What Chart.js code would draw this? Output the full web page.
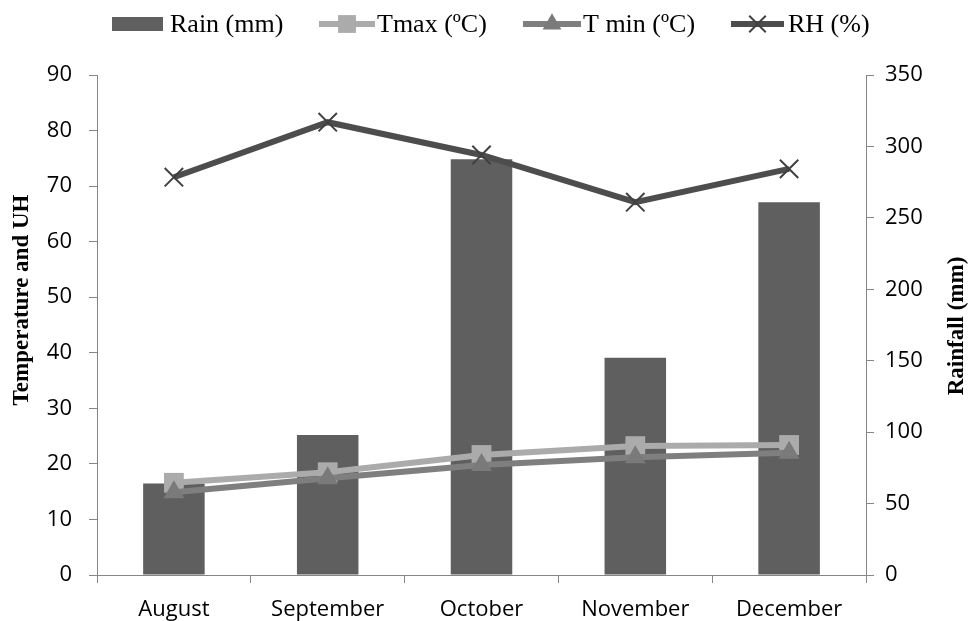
<!DOCTYPE html>
<html>
<head>
<meta charset="utf-8">
<script src="https://cdn.jsdelivr.net/npm/chart.js@4"></script>
<style>
  html, body { margin: 0; padding: 0; background: #ffffff; }
  #wrap { width: 968px; height: 621px; }
</style>
</head>
<body>
<div id="wrap"><canvas id="chart" width="968" height="621"></canvas></div>
<script>
// Monthly climate: rainfall (right axis), temperatures and relative humidity (left axis)
const months = ['August', 'September', 'October', 'November', 'December'];
const rainMm = [64, 98, 291, 152, 261];
const tMax = [16.6, 18.5, 21.6, 23.2, 23.4];
const tMin = [14.9, 17.4, 19.8, 21.2, 22.0];
const relHum = [71.6, 81.5, 75.6, 67.1, 73.1];

const leftTicks = { min: 0, max: 90, step: 10 };
const rightTicks = { min: 0, max: 350, step: 50 };

const AXIS = '#868686';
const TICK_FONT = { family: '"Open Sans", sans-serif', size: 22 };
const SERIF = '"Liberation Serif", "Times New Roman", serif';

// Legend with line + marker swatches, drawn above the plot
const legendPlugin = {
  id: 'comboLegend',
  afterDraw(chart) {
    const ctx = chart.ctx;
    const y = 24;
    ctx.save();
    ctx.font = '26px ' + SERIF;
    ctx.textBaseline = 'middle';
    ctx.textAlign = 'left';
    const items = [
      { ds: 0, x0: 112, x1: 163, tx: 170 },
      { ds: 1, x0: 319, x1: 375, tx: 377 },
      { ds: 2, x0: 523, x1: 581, tx: 583 },
      { ds: 3, x0: 731, x1: 784, tx: 788 }
    ];
    items.forEach(it => {
      const ds = chart.data.datasets[it.ds];
      if (ds.type === 'bar') {
        ctx.fillStyle = ds.backgroundColor;
        ctx.fillRect(it.x0, y - 7, it.x1 - it.x0, 14);
      } else {
        ctx.strokeStyle = ds.borderColor;
        ctx.lineWidth = ds.borderWidth;
        ctx.beginPath();
        ctx.moveTo(it.x0, y);
        ctx.lineTo(it.x1, y);
        ctx.stroke();
        ctx.fillStyle = ds.pointBackgroundColor;
        ctx.strokeStyle = ds.pointBorderColor;
        ctx.lineWidth = ds.pointBorderWidth;
        Chart.helpers.drawPoint(ctx, {
          pointStyle: ds.pointStyle,
          radius: ds.pointRadius * 0.9,
          borderWidth: ds.pointBorderWidth,
          rotation: 0
        }, (it.x0 + it.x1) / 2, y);
      }
      ctx.fillStyle = '#000000';
      ctx.fillText(ds.label, it.tx, y + 1);
    });
    ctx.restore();
  }
};

// Rotated bold axis titles
const titlePlugin = {
  id: 'axisTitles',
  afterDraw(chart) {
    const ctx = chart.ctx;
    const draw = (text, x, y) => {
      ctx.save();
      ctx.font = 'bold 23px ' + SERIF;
      ctx.fillStyle = '#000000';
      ctx.textAlign = 'center';
      ctx.textBaseline = 'middle';
      ctx.translate(x, y);
      ctx.rotate(-Math.PI / 2);
      ctx.fillText(text, 0, 0);
      ctx.restore();
    };
    draw('Temperature and UH', 22, 300);
    draw('Rainfall (mm)', 957, 326);
  }
};

new Chart(document.getElementById('chart'), {
  type: 'bar',
  data: {
    labels: months,
    datasets: [
      {
        type: 'bar',
        label: 'Rain (mm)',
        data: rainMm,
        yAxisID: 'y1',
        backgroundColor: '#5f5f5f',
        borderWidth: 0,
        categoryPercentage: 1,
        barPercentage: 0.4,
        order: 10
      },
      {
        type: 'line',
        label: 'Tmax (ºC)',
        data: tMax,
        yAxisID: 'y',
        borderColor: '#ababab',
        borderWidth: 6,
        pointStyle: 'rect',
        pointRadius: 14,
        pointBackgroundColor: '#ababab',
        pointBorderColor: '#ababab',
        pointBorderWidth: 0,
        tension: 0,
        order: 3
      },
      {
        type: 'line',
        label: 'T min (ºC)',
        data: tMin,
        yAxisID: 'y',
        borderColor: '#7f7f7f',
        borderWidth: 6,
        pointStyle: 'triangle',
        pointRadius: 12,
        pointBackgroundColor: '#7a7a7a',
        pointBorderColor: '#7a7a7a',
        pointBorderWidth: 0,
        tension: 0,
        order: 2
      },
      {
        type: 'line',
        label: 'RH (%)',
        data: relHum,
        yAxisID: 'y',
        borderColor: '#4d4d4d',
        borderWidth: 6,
        pointStyle: 'crossRot',
        pointRadius: 13,
        pointBackgroundColor: '#404040',
        pointBorderColor: '#404040',
        pointBorderWidth: 2,
        tension: 0,
        order: 1
      }
    ]
  },
  options: {
    responsive: false,
    animation: false,
    events: [],
    layout: { padding: { top: 75, right: 0, bottom: 0, left: 0 } },
    plugins: {
      legend: { display: false },
      tooltip: { enabled: false },
      title: { display: false }
    },
    scales: {
      x: {
        offset: true,
        grid: {
          offset: true,
          drawOnChartArea: false,
          drawTicks: true,
          tickLength: 8,
          color: AXIS,
          lineWidth: 1
        },
        border: { color: AXIS, width: 1 },
        ticks: { color: '#000000', font: TICK_FONT, padding: 14, maxRotation: 0 },
        afterFit(scale) { scale.height = 46; }
      },
      y: {
        position: 'left',
        min: leftTicks.min,
        max: leftTicks.max,
        grid: {
          drawOnChartArea: false,
          drawTicks: true,
          tickLength: 8,
          color: AXIS
        },
        border: { color: AXIS, width: 1 },
        ticks: { stepSize: leftTicks.step, color: '#000000', font: TICK_FONT, padding: 17 },
        afterFit(scale) { scale.width = 97; }
      },
      y1: {
        position: 'right',
        min: rightTicks.min,
        max: rightTicks.max,
        grid: {
          drawOnChartArea: false,
          drawTicks: true,
          tickLength: 8,
          color: AXIS
        },
        border: { color: AXIS, width: 1 },
        ticks: { stepSize: rightTicks.step, color: '#000000', font: TICK_FONT, padding: 11 },
        afterFit(scale) { scale.width = 102; }
      }
    }
  },
  plugins: [legendPlugin, titlePlugin]
});
</script>
</body>
</html>
